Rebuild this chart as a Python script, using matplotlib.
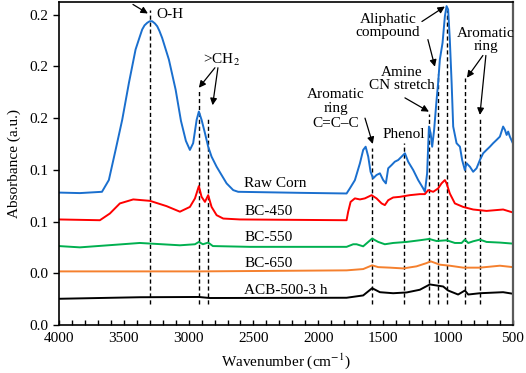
import matplotlib
matplotlib.use("Agg")
import matplotlib.pyplot as plt
import numpy as np

plt.rcParams["font.family"] = ["Liberation Serif", "DejaVu Serif"]
plt.rcParams["mathtext.fontset"] = "stix"
plt.rcParams["font.size"] = 11

# spectra (wavenumber cm-1, absorbance a.u.)
raw_wn = [4000, 3838, 3668, 3615, 3563, 3512, 3460, 3409, 3380, 3358, 3340, 3319, 3300, 3281,
          3260, 3242, 3225, 3204, 3152, 3100, 3059, 3021, 2990, 2965, 2938, 2921, 2900, 2874,
          2849, 2823, 2784, 2746, 2707, 2656, 2618, 2142, 1782, 1757, 1718, 1679, 1654, 1635,
          1615, 1597, 1577, 1551, 1525, 1500, 1479, 1461, 1435, 1410, 1384, 1358, 1332, 1307,
          1268, 1230, 1191, 1178, 1161, 1147, 1134, 1122, 1107, 1088, 1076, 1063, 1042, 1024,
          1011, 999, 986, 972, 960, 934, 908, 891, 870, 857, 831, 806, 780, 754, 729, 703, 677,
          652, 626, 600, 575, 561, 548, 536, 523, 500]
raw_ab = [0.1024, 0.1020, 0.1030, 0.1121, 0.1354, 0.1587, 0.1874, 0.2131, 0.2220, 0.2286,
          0.2318, 0.2338, 0.2350, 0.2350, 0.2333, 0.2311, 0.2275, 0.2221, 0.2053, 0.1820,
          0.1579, 0.1424, 0.1354, 0.1406, 0.1587, 0.1651, 0.1587, 0.1484, 0.1379, 0.1302,
          0.1224, 0.1160, 0.1095, 0.1043, 0.1030, 0.1022, 0.1017, 0.1056, 0.1120, 0.1251,
          0.1354, 0.1379, 0.1302, 0.1185, 0.1134, 0.1160, 0.1173, 0.1121, 0.1095, 0.1212,
          0.1237, 0.1263, 0.1276, 0.1302, 0.1328, 0.1263, 0.1198, 0.1121, 0.1056, 0.1030,
          0.1173, 0.1535, 0.1484, 0.1379, 0.1509, 0.1742, 0.1872, 0.2053, 0.2183, 0.2389,
          0.2467, 0.2441, 0.2208, 0.1872, 0.1535, 0.1406, 0.1379, 0.1276, 0.1198, 0.1251,
          0.1224, 0.1185, 0.1212, 0.1276, 0.1328, 0.1354, 0.1379, 0.1406, 0.1431, 0.1457,
          0.1535, 0.1509, 0.1470, 0.1496, 0.1457, 0.1406]

bc450_wn = [4000, 3684, 3607, 3530, 3427, 3298, 3170, 3067, 2990, 2951, 2921, 2900, 2874, 2849,
            2823, 2784, 2733, 2605, 1782, 1770, 1751, 1718, 1679, 1641, 1589, 1551, 1512, 1487,
            1461, 1423, 1371, 1294, 1217, 1178, 1153, 1114, 1076, 1050, 1024, 1011, 986, 947,
            883, 806, 703, 575, 500]
bc450_ab = [0.0816, 0.0810, 0.0862, 0.0940, 0.0971, 0.0960, 0.0919, 0.0876, 0.0913, 0.0979,
            0.1074, 0.0991, 0.0952, 0.1004, 0.0913, 0.0849, 0.0823, 0.0816, 0.0810, 0.0875,
            0.0952, 0.0979, 0.0971, 0.0979, 0.1004, 0.0979, 0.0940, 0.0927, 0.0965, 0.0986,
            0.0991, 0.1004, 0.1012, 0.1012, 0.1043, 0.1030, 0.1056, 0.1095, 0.1121, 0.1095,
            0.1017, 0.0940, 0.0913, 0.0893, 0.0882, 0.0893, 0.0870]

bc550_wn = [4000, 3838, 3376, 3067, 2951, 2921, 2890, 2849, 2813, 2527, 1782, 1731, 1705, 1654,
            1615, 1585, 1538, 1487, 1423, 1319, 1217, 1145, 1088, 1011, 947, 895, 870, 844, 806,
            754, 703, 600, 500]
bc550_ab = [0.0610, 0.0600, 0.0634, 0.0616, 0.0624, 0.0642, 0.0624, 0.0637, 0.0610, 0.0604,
            0.0604, 0.0624, 0.0624, 0.0608, 0.0642, 0.0668, 0.0642, 0.0624, 0.0634, 0.0642,
            0.0655, 0.0665, 0.0649, 0.0655, 0.0634, 0.0634, 0.0660, 0.0634, 0.0647, 0.0660,
            0.0642, 0.0637, 0.0629]

bc650_wn = [4000, 2913, 1782, 1654, 1585, 1538, 1448, 1346, 1243, 1166, 1134, 1063, 986, 883,
            754, 600, 500]
bc650_ab = [0.0414, 0.0414, 0.0422, 0.0432, 0.0461, 0.0447, 0.0443, 0.0437, 0.0453, 0.0478,
            0.0492, 0.0466, 0.0458, 0.0443, 0.0443, 0.0458, 0.0447]

acb_wn = [4000, 3376, 2921, 2836, 1782, 1654, 1585, 1525, 1423, 1319, 1217, 1140, 1088, 1037,
          999, 922, 870, 844, 754, 575, 500]
acb_ab = [0.0202, 0.0214, 0.0216, 0.0208, 0.0210, 0.0228, 0.0284, 0.0253, 0.0245, 0.0251,
          0.0272, 0.0313, 0.0305, 0.0297, 0.0266, 0.0235, 0.0266, 0.0235, 0.0245, 0.0253, 0.0241]

series = [
    ("Raw Corn", raw_wn, raw_ab, "#1a6fce", 0.1097),
    ("BC-450", bc450_wn, bc450_ab, "#ff0000", 0.0880),
    ("BC-550", bc550_wn, bc550_ab, "#00b050", 0.0678),
    ("BC-650", bc650_wn, bc650_ab, "#f5802e", 0.0476),
    ("ACB-500-3 h", acb_wn, acb_ab, "#000000", 0.0266),
]

# marked bands (dashed guides)
band_wn = [3300, 2920, 2850, 1585, 1340, 1145, 1080, 1006, 868, 757]
band_top = [0.244, 0.182, 0.161, 0.137, 0.141, 0.163, 0.194, 0.244, 0.191, 0.160]
band_bottom = 0.0165

y_ticks = [0.0, 0.04, 0.08, 0.12, 0.16, 0.20, 0.24]
y_tick_labels = ["0.0", "0.0", "0.1", "0.1", "0.2", "0.2", "0.2"]

fig = plt.figure(figsize=(5.26, 3.73), dpi=100)
ax = fig.add_axes([0.112, 0.129, 0.863, 0.866])

for wn, top in zip(band_wn, band_top):
    ax.plot([wn, wn], [band_bottom, top], color="black", lw=1.0, ls=(0, (3, 2)), zorder=1)

for name, wn, ab, color, label_y in series:
    ax.plot(wn, ab, color=color, lw=1.4, zorder=2)
    ax.text(2570, label_y, name, ha="left", va="center")

arrow = dict(arrowstyle="-|>", color="black", lw=0.9, mutation_scale=10, shrinkA=0, shrinkB=0)

ax.text(3252, 0.2402, "O-H", ha="left", va="center")
ax.annotate("", xy=(3314, 0.241), xytext=(3429, 0.248), arrowprops=arrow)

ax.text(2743, 0.2053, ">CH$_2$", ha="center", va="center")
ax.annotate("", xy=(2921, 0.1835), xytext=(2797, 0.199), arrowprops=arrow)
ax.annotate("", xy=(2815, 0.170), xytext=(2774, 0.199), arrowprops=arrow)

ax.text(1864, 0.1672, "Aromatic\nring\nC=C\u2013C", ha="center", va="center", linespacing=1.15)
ax.annotate("", xy=(1580, 0.1400), xytext=(1640, 0.160), arrowprops=arrow)

ax.text(1340, 0.147, "Phenol", ha="center", va="center")

ax.text(1356, 0.190, "Amine\nCN stretch", ha="center", va="center", linespacing=1.0)
ax.annotate("", xy=(1147, 0.165), xytext=(1332, 0.1757), arrowprops=arrow)

ax.text(1463, 0.2313, "Aliphatic\ncompound", ha="center", va="center", linespacing=1.0)
ax.annotate("", xy=(1024, 0.2464), xytext=(1201, 0.2348), arrowprops=arrow)
ax.annotate("", xy=(1101, 0.1998), xytext=(1155, 0.2208), arrowprops=arrow)

ax.text(708, 0.2208, "Aromatic\nring", ha="center", va="center", linespacing=1.0)
ax.annotate("", xy=(854, 0.1913), xytext=(731, 0.2085), arrowprops=arrow)
ax.annotate("", xy=(754, 0.1625), xytext=(708, 0.2085), arrowprops=arrow)

ax.set_xlim(4000, 500)
ax.set_ylim(0, 0.25)
ax.set_xticks(np.arange(4000, 499, -500))
ax.set_xticks(np.arange(4000, 499, -100), minor=True)
ax.set_yticks(y_ticks)
ax.set_yticklabels(y_tick_labels)
ax.tick_params(axis="x", which="both", direction="in", length=3.5, width=1.0, pad=5)
ax.tick_params(axis="y", direction="out", length=4, width=1.0)

for side in ["left", "bottom", "top"]:
    ax.spines[side].set_linewidth(1.2)
    ax.spines[side].set_color("black")
ax.spines["right"].set_linewidth(1.6)
ax.spines["right"].set_color("#5a5a5a")

ax.set_xlabel("Wavenumber (cm$^{-1}$)", labelpad=5)
ax.set_ylabel("Absorbance (a.u.)", labelpad=6)

fig.savefig("out.png", dpi=100)
